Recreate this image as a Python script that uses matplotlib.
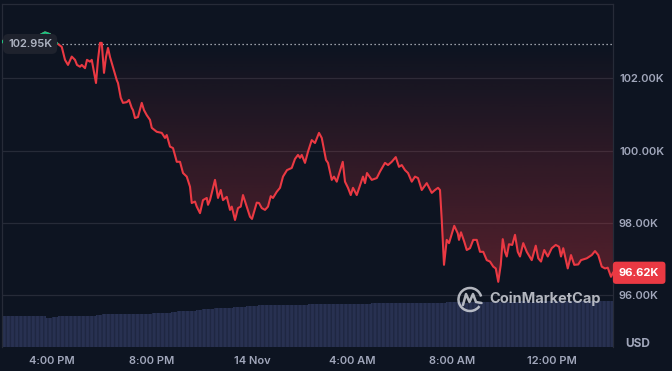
import numpy as np
import matplotlib.pyplot as plt
import matplotlib.transforms as mtransforms
from matplotlib.colors import LinearSegmentedColormap
from matplotlib.patches import Arc

plt.rcParams['font.family'] = ['Inter', 'DejaVu Sans']

# BTC price, hours counted from 4:00 PM (13 Nov)
hours = [
    -2.0, -1.92, -1.28, -0.68, -0.28, -0.08, 0.08, 0.2, 0.39, 0.52,
    0.64, 0.79, 0.92, 1.0, 1.12, 1.19, 1.32, 1.40, 1.52, 1.59,
    1.64, 1.76, 1.84, 1.92, 1.99, 2.08, 2.16, 2.24, 2.32, 2.44,
    2.59, 2.64, 2.75, 2.84, 2.99, 3.08, 3.19, 3.24, 3.32, 3.44,
    3.59, 3.68, 3.79, 3.92, 3.99, 4.19, 4.39, 4.52, 4.59, 4.72,
    4.84, 4.99, 5.12, 5.24, 5.39, 5.52, 5.59, 5.72, 5.79, 5.92,
    6.04, 6.19, 6.24, 6.32, 6.52, 6.64, 6.75, 6.84, 6.99, 7.12,
    7.19, 7.32, 7.44, 7.55, 7.64, 7.79, 7.92, 8.0, 8.19, 8.28,
    8.39, 8.52, 8.64, 8.75, 8.84, 8.99, 9.12, 9.24, 9.4, 9.59,
    9.72, 9.84, 9.92, 9.99, 10.12, 10.24, 10.39, 10.52, 10.68, 10.79,
    10.96, 11.04, 11.19, 11.28, 11.39, 11.63, 11.72, 11.84, 11.95, 12.04,
    12.19, 12.44, 12.52, 12.6, 12.79, 12.99, 13.12, 13.32, 13.44, 13.59,
    13.75, 13.88, 13.99, 14.12, 14.24, 14.39, 14.52, 14.64, 14.79, 14.99,
    15.19, 15.32, 15.44, 15.52, 15.59, 15.68, 15.79, 15.88, 16.09, 16.23,
    16.28, 16.36, 16.49, 16.59, 16.72, 16.85, 16.99, 17.12, 17.25, 17.39,
    17.52, 17.65, 17.75, 17.85, 17.95, 18.03, 18.12, 18.19, 18.28, 18.41,
    18.52, 18.63, 18.72, 18.85, 18.99, 19.19, 19.35, 19.45, 19.56, 19.69,
    19.83, 19.99, 20.15, 20.28, 20.36, 20.45, 20.63, 20.76, 20.89, 21.05,
    21.16, 21.39, 21.59, 21.72, 21.85, 21.99, 22.12, 22.23, 22.36, 22.44,
]
price_k = [
    103.00, 103.06, 103.08, 103.12, 103.27, 103.22, 103.06, 102.97, 102.87, 102.51,
    102.37, 102.60, 102.51, 102.37, 102.32, 102.37, 102.28, 102.51, 102.46, 102.51,
    102.32, 101.87, 102.51, 102.98, 102.98, 102.15, 102.59, 102.84, 102.59, 102.31,
    101.95, 101.87, 101.46, 101.32, 101.34, 101.40, 101.18, 101.12, 100.90, 100.93,
    101.32, 101.12, 100.98, 100.85, 100.63, 100.52, 100.49, 100.35, 100.43, 100.11,
    100.07, 99.69, 99.69, 99.38, 99.28, 99.00, 98.55, 98.59, 98.45, 98.27,
    98.63, 98.69, 98.50, 98.63, 99.19, 98.69, 98.91, 98.63, 98.72, 98.36,
    98.45, 98.08, 98.41, 98.45, 98.77, 98.45, 98.17, 98.11, 98.56, 98.55,
    98.41, 98.36, 98.45, 98.74, 98.69, 98.86, 98.97, 99.28, 99.46, 99.52,
    99.77, 99.88, 99.80, 99.88, 99.66, 99.97, 100.29, 100.21, 100.49, 100.35,
    99.74, 99.66, 99.19, 99.28, 99.14, 99.69, 99.14, 98.97, 98.77, 98.97,
    98.77, 99.28, 99.10, 99.38, 99.19, 99.24, 99.42, 99.66, 99.60, 99.69,
    99.82, 99.55, 99.60, 99.46, 99.38, 99.14, 99.28, 99.24, 98.91, 99.10,
    98.83, 98.91, 98.97, 98.91, 98.08, 96.84, 97.53, 97.44, 97.92, 97.71,
    97.53, 97.74, 97.48, 97.25, 97.30, 97.53, 97.53, 97.20, 97.20, 96.97,
    96.93, 96.79, 96.74, 96.37, 96.84, 97.55, 97.20, 97.07, 97.41, 97.39,
    97.67, 97.20, 97.07, 97.44, 97.20, 96.97, 97.37, 97.02, 96.93, 97.25,
    97.07, 97.30, 97.39, 97.34, 97.07, 97.30, 96.74, 97.11, 96.84, 96.85,
    96.97, 97.02, 97.11, 97.22, 97.11, 96.79, 96.74, 96.76, 96.51, 96.62,
]
base_k = 102.95
last_k = 96.62

# 24h volume (billion USD), one bar every 15 minutes from 2:00 PM
vol_start = -2.0
vol_step = 0.25
volume_b = [
    89, 89, 89, 89, 89, 88, 88, 84, 87, 88,
    88, 88, 89, 90, 90, 92, 95, 94, 94, 95,
    95, 95, 96, 96, 98, 99, 99, 100, 102, 103,
    104, 106, 108, 110, 111, 112, 113, 115, 116, 117,
    119, 120, 120, 120, 121, 121, 122, 122, 122, 123,
    123, 124, 124, 124, 125, 125, 125, 124, 125, 126,
    126, 126, 126, 126, 126, 127, 126, 127, 127, 127,
    128, 129, 129, 129, 128, 129, 129, 130, 129, 130,
    130, 130, 130, 131, 130, 130, 131, 131, 131, 131,
    131, 132, 131, 131, 132, 132, 132, 132,
]

tick_hours = [0, 4, 8, 12, 16, 20]
tick_labels = ["4:00 PM", "8:00 PM", "14 Nov", "4:00 AM", "8:00 AM", "12:00 PM"]
price_ticks = [96, 98, 100, 102]

BG = "#0d1421"
RED = "#ea3943"
GREEN = "#16c784"
GRID = "#262b38"
TXT = "#a1a7bb"

hours = np.array(hours)
price = np.array(price_k)
vol_hours = vol_start + vol_step * np.arange(len(volume_b))

W, H = 672, 371
L, R, T, B = 2, 613, 4.3, 346.7
fig = plt.figure(figsize=(W / 100, H / 100), dpi=100, facecolor=BG)
rect = [L / W, 1 - B / H, (R - L) / W, (B - T) / H]

# volume underneath
vax = fig.add_axes(rect)
vax.patch.set_visible(False)
vax.bar(vol_hours, volume_b, width=vol_step, align='edge',
        color="#283151", edgecolor="#1f2742", linewidth=0, hatch='||||')
vax.set_xlim(-2.0, 22.44)
vax.set_ylim(0, 992)
vax.axis('off')

ax = fig.add_axes(rect)
ax.patch.set_visible(False)
x0, x1 = -2.0, 22.44
y0, y1 = 94.575, 104.047

# red gradient between line and baseline
poly = ax.fill_between(hours, np.minimum(price, base_k), base_k,
                       facecolor='none', edgecolor='none')
cmap = LinearSegmentedColormap.from_list(
    "redfade", [(234 / 255, 57 / 255, 67 / 255, 0.34), (234 / 255, 57 / 255, 67 / 255, 0.0)])
grad = np.linspace(0, 1, 256).reshape(-1, 1)
img = ax.imshow(grad, cmap=cmap, origin='lower', aspect='auto',
                extent=[x0, x1, 96.0, base_k], zorder=1)
img.set_clip_path(poly.get_paths()[0], transform=ax.transData)

ax.plot(hours, price, color=RED, lw=1.5, zorder=3, solid_joinstyle='round')
ax.plot(hours, np.ma.masked_where(hours > 0.2, price), color=GREEN, lw=1.5, zorder=3)
ax.axhline(base_k, color="#c5c9d2", lw=0.9, ls=(0, (1, 2.2)), zorder=2)

ax.set_xlim(x0, x1)
ax.set_ylim(y0, y1)
ax.grid(axis='y', color=GRID, lw=0.9)
ax.set_axisbelow(True)
for s in ['left', 'top', 'right']:
    ax.spines[s].set_color(GRID)
    ax.spines[s].set_linewidth(0.9)
ax.spines['bottom'].set_visible(False)

ax.yaxis.tick_right()
ax.set_yticks(price_ticks, [f"{v:.2f}K" for v in price_ticks])
ax.set_xticks(tick_hours, tick_labels)
ax.tick_params(axis='y', length=0, pad=4.3, labelsize=8, labelcolor=TXT)
ax.tick_params(axis='x', length=0, pad=7, labelsize=8, labelcolor=TXT)
for lab in ax.get_yticklabels() + ax.get_xticklabels():
    lab.set_fontweight('semibold')

# value tags
tr = mtransforms.blended_transform_factory(ax.transAxes, ax.transData)
ax.text(0.046, base_k, f"{base_k:.2f}K", transform=tr, ha='center', va='center',
        fontsize=8, fontweight='semibold', color="#aeb4c2", zorder=6,
        bbox=dict(boxstyle='round,pad=0.45,rounding_size=0.5', fc="#1e222d", ec='none'))
ax.text(1.0098, last_k, f"{last_k:.2f}K", transform=tr, ha='left', va='center',
        fontsize=8, fontweight='bold', color='white', zorder=6, clip_on=False,
        bbox=dict(boxstyle='round,pad=0.55,rounding_size=0.3', fc=RED, ec='none'))

fig.text(638 / W, 1 - 344 / H, "USD", ha='center', va='center',
         fontsize=8.5, fontweight='bold', color=TXT)

# watermark in pixel coordinates
ov = fig.add_axes([0, 0, 1, 1])
ov.set_xlim(0, W)
ov.set_ylim(H, 0)
ov.axis('off')
wm = "#d0d3da"
ov.add_patch(Arc((470, 299.5), 23, 23, theta1=35, theta2=345, color=wm, lw=1.8, alpha=0.85))
ov.plot([463, 466, 469.5, 473, 476, 481.5], [305, 294, 302, 294, 302, 303],
        color=wm, lw=1.8, alpha=0.85, solid_joinstyle='round', solid_capstyle='round')
ov.text(489, 299, "CoinMarketCap", ha='left', va='center', fontsize=10.5,
        fontweight='bold', color=wm, alpha=0.85)

fig.savefig("out.png", dpi=100, facecolor=BG)
